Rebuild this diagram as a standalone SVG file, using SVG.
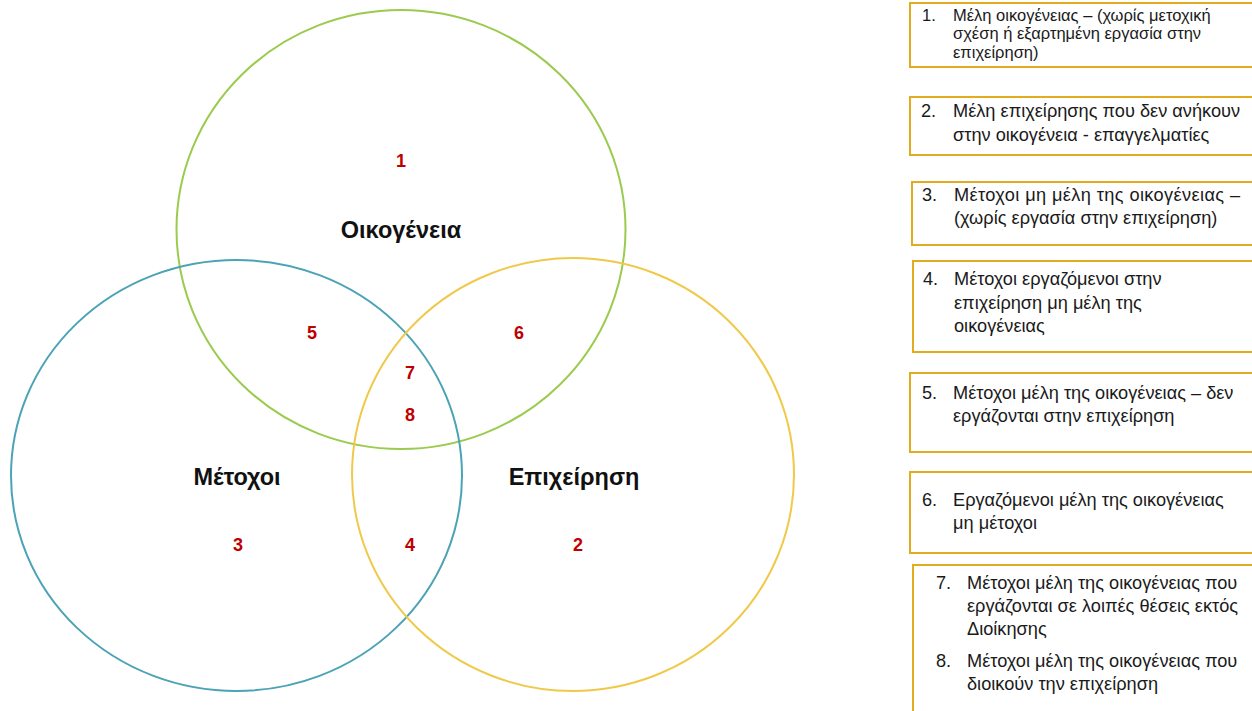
<svg xmlns="http://www.w3.org/2000/svg" width="1252" height="711" viewBox="0 0 1252 711">
  <style>
    .ring { fill: none; stroke-width: 2; }
    .title { font-family: "Liberation Sans", Arial, sans-serif; font-weight: bold; font-size: 23.5px; fill: #111; text-anchor: middle; }
    .num { font-family: "Liberation Sans", Arial, sans-serif; font-weight: bold; font-size: 18px; fill: #C00000; text-anchor: middle; }
    .box { fill: #fff; stroke: #E3AC1F; stroke-width: 2; }
    .item { font-family: "Liberation Sans", Arial, sans-serif; font-size: 18.2px; fill: #1a1a1a; }
    .small { font-size: 16.5px; }
  </style>

  <rect width="1252" height="711" fill="#fff"/>

  <!-- Venn sets -->
  <g id="set-family">
    <ellipse class="ring" cx="401" cy="229.5" rx="224.5" ry="219.5" stroke="#9BCB4E"/>
    <text class="title" x="401" y="238">Οικογένεια</text>
  </g>
  <g id="set-shareholders">
    <ellipse class="ring" cx="236.5" cy="475.5" rx="225.5" ry="215.5" stroke="#4BA3B5"/>
    <text class="title" x="237" y="485">Μέτοχοι</text>
  </g>
  <g id="set-business">
    <ellipse class="ring" cx="573" cy="474.5" rx="221" ry="216.5" stroke="#F0C94A"/>
    <text class="title" x="574" y="485">Επιχείρηση</text>
  </g>

  <!-- Region numbers -->
  <g id="region-labels">
    <text class="num" x="401" y="167">1</text>
    <text class="num" x="578" y="551">2</text>
    <text class="num" x="238" y="551">3</text>
    <text class="num" x="410" y="551">4</text>
    <text class="num" x="312" y="339">5</text>
    <text class="num" x="519" y="339">6</text>
    <text class="num" x="410" y="379">7</text>
    <text class="num" x="410" y="421">8</text>
  </g>

  <!-- Legend boxes -->
  <g id="legend-1">
    <rect class="box" x="910" y="3" width="350" height="64"/>
    <text class="item small" x="922" y="21">1.</text>
    <text class="item small" x="953" y="21">Μέλη οικογένειας – (χωρίς μετοχική</text>
    <text class="item small" x="953" y="39">σχέση ή εξαρτημένη  εργασία στην</text>
    <text class="item small" x="953" y="58">επιχείρηση)</text>
  </g>
  <g id="legend-2">
    <rect class="box" x="910" y="97" width="350" height="58"/>
    <text class="item" x="921" y="117">2.</text>
    <text class="item" x="953" y="117">Μέλη επιχείρησης που δεν ανήκουν</text>
    <text class="item" x="953" y="141">στην οικογένεια - επαγγελματίες</text>
  </g>
  <g id="legend-3">
    <rect class="box" x="912" y="182" width="348" height="63"/>
    <text class="item" x="922" y="201">3.</text>
    <text class="item" x="954" y="201" textLength="286" lengthAdjust="spacing">Μέτοχοι μη μέλη της οικογένειας –</text>
    <text class="item" x="954" y="224">(χωρίς εργασία στην επιχείρηση)</text>
  </g>
  <g id="legend-4">
    <rect class="box" x="913" y="261" width="347" height="91"/>
    <text class="item" x="923" y="285">4.</text>
    <text class="item" x="954" y="285">Μέτοχοι εργαζόμενοι στην</text>
    <text class="item" x="954" y="309">επιχείρηση μη  μέλη της</text>
    <text class="item" x="954" y="332">οικογένειας</text>
  </g>
  <g id="legend-5">
    <rect class="box" x="910" y="373" width="350" height="79"/>
    <text class="item" x="922" y="399">5.</text>
    <text class="item" x="953" y="399">Μέτοχοι μέλη της οικογένειας – δεν</text>
    <text class="item" x="953" y="422">εργάζονται στην επιχείρηση</text>
  </g>
  <g id="legend-6">
    <rect class="box" x="910" y="472" width="350" height="81"/>
    <text class="item" x="922" y="506">6.</text>
    <text class="item" x="953" y="506">Εργαζόμενοι μέλη της οικογένειας</text>
    <text class="item" x="953" y="529">μη  μέτοχοι</text>
  </g>
  <g id="legend-7-8">
    <path d="M1252 565 H913 V711" fill="none" stroke="#E3AC1F" stroke-width="2"/>
    <text class="item" x="936" y="589">7.</text>
    <text class="item" x="967" y="589">Μέτοχοι μέλη της οικογένειας που</text>
    <text class="item" x="967" y="612">εργάζονται σε λοιπές θέσεις εκτός</text>
    <text class="item" x="967" y="635">Διοίκησης</text>
    <text class="item" x="936" y="667">8.</text>
    <text class="item" x="967" y="667">Μέτοχοι μέλη της οικογένειας που</text>
    <text class="item" x="967" y="690">διοικούν την  επιχείρηση</text>
  </g>
</svg>
